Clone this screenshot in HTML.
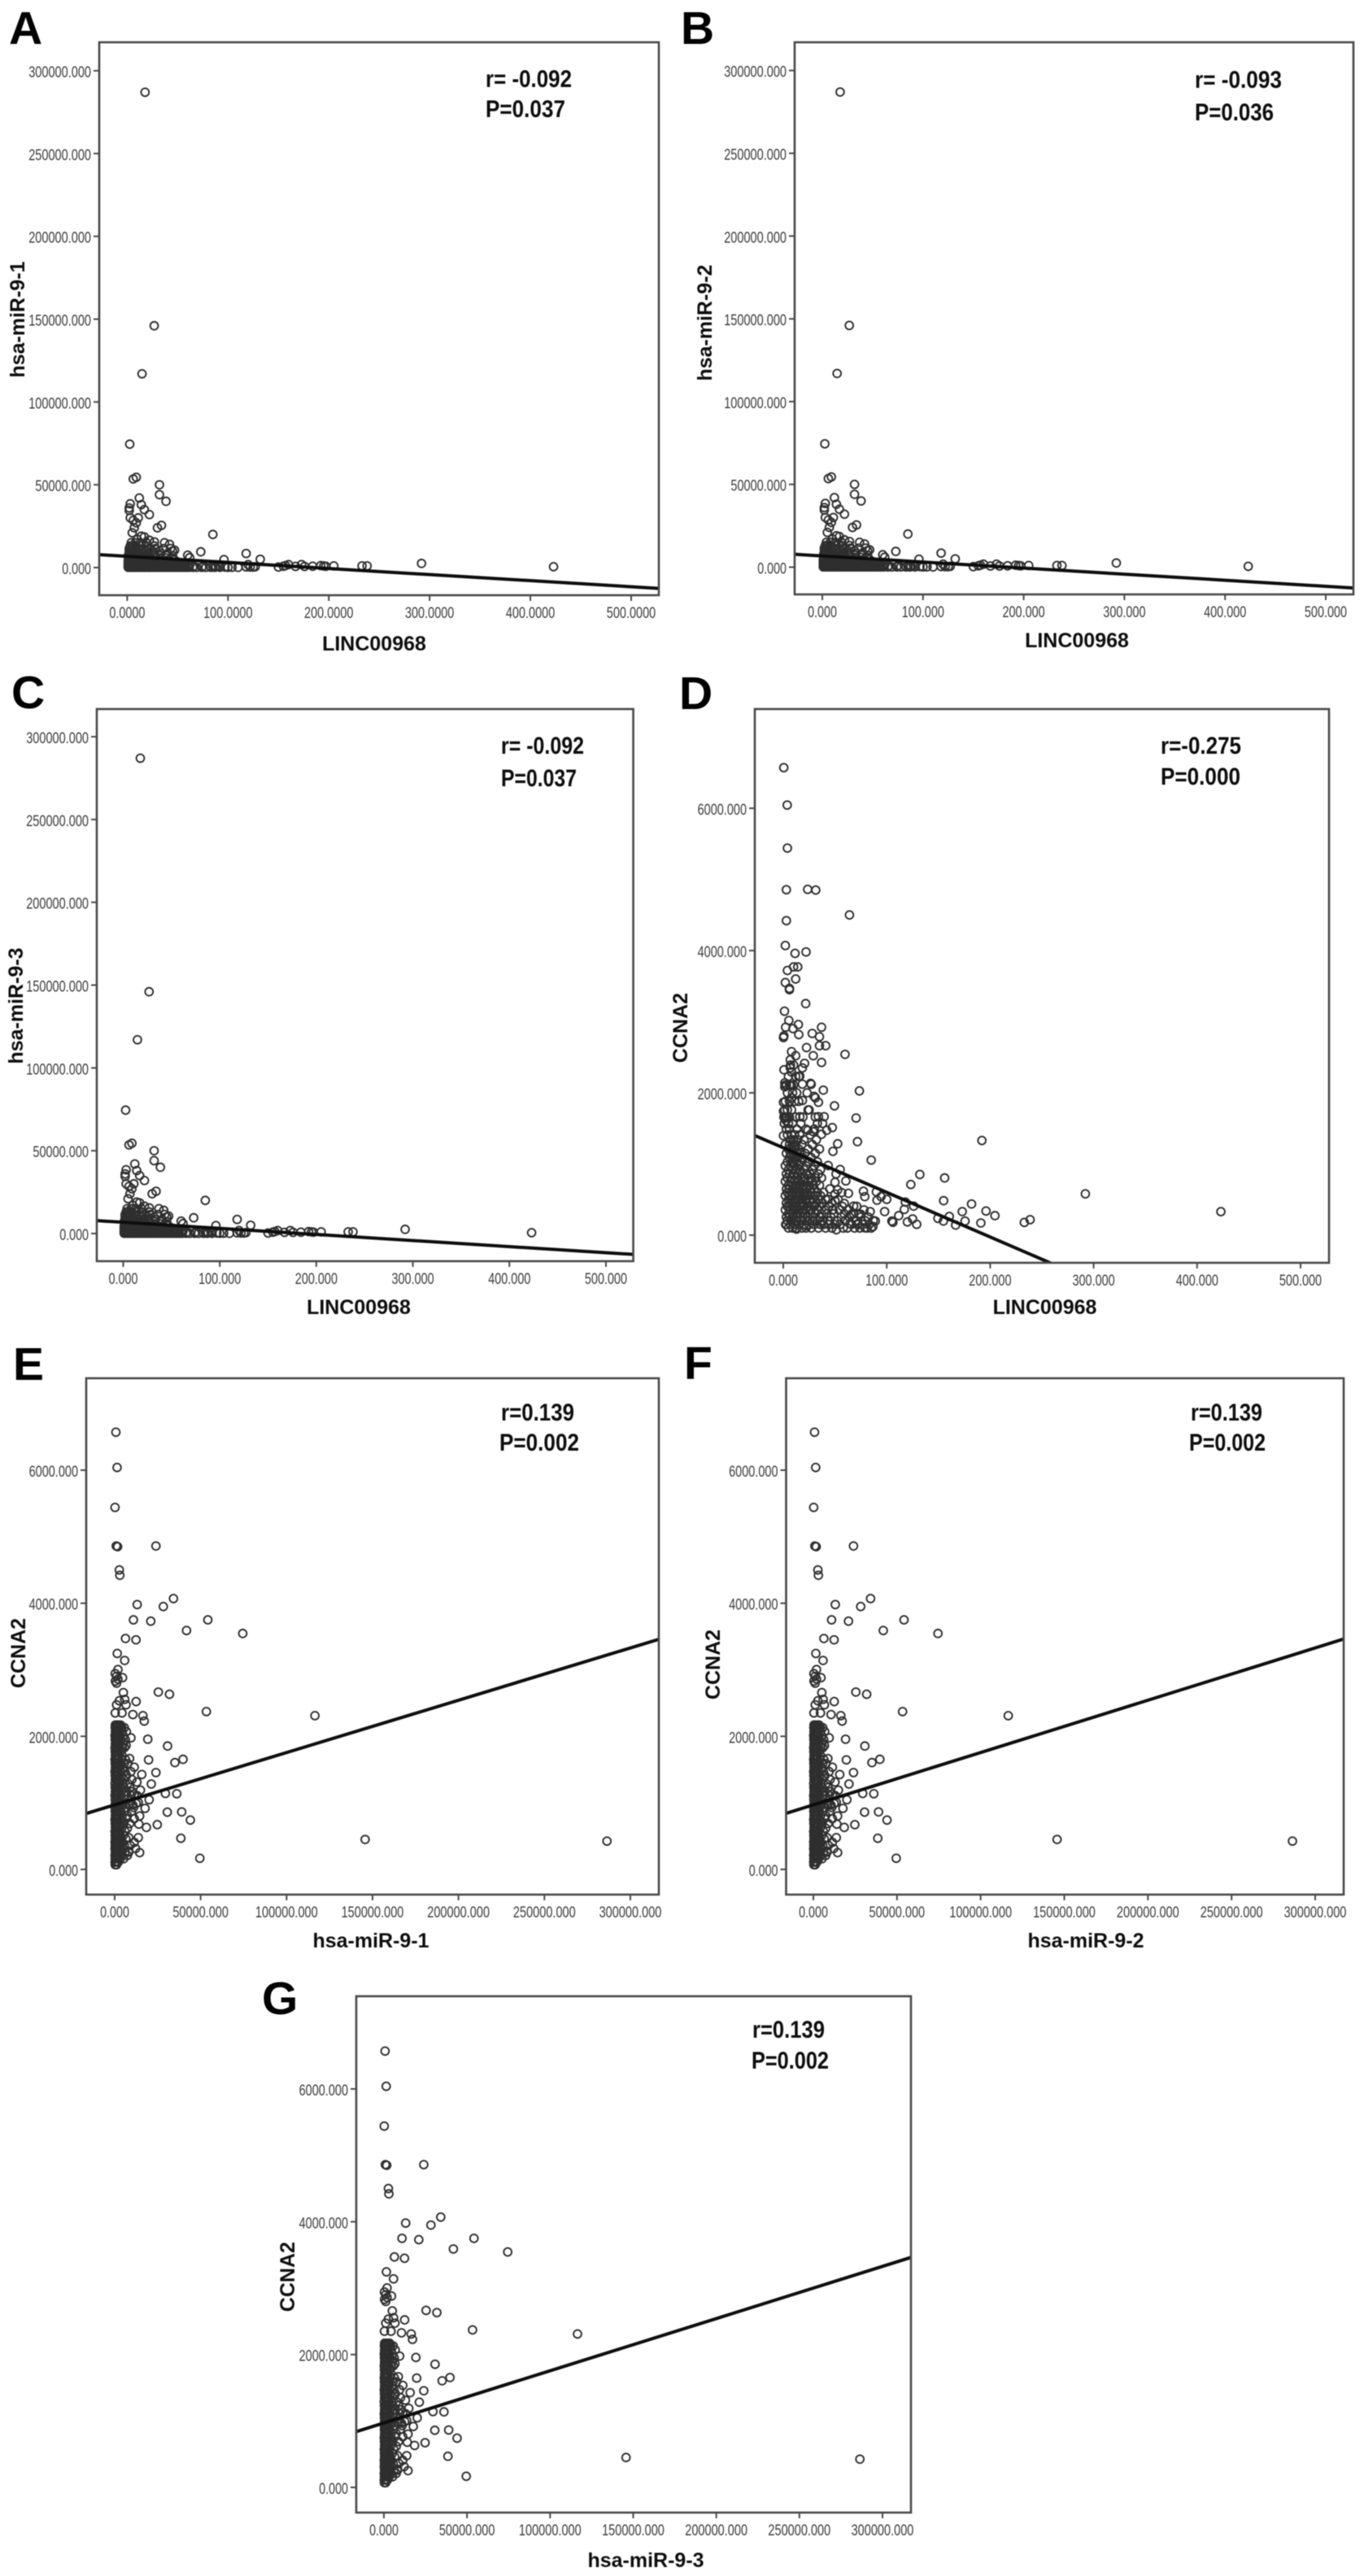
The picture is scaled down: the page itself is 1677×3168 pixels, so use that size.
<!DOCTYPE html>
<html lang="en">
<head>
<meta charset="utf-8">
<title>Correlation scatter plots A-G</title>
<style>
html,body{margin:0;padding:0;background:#fff}
svg{display:block}
text{font-family:"Liberation Sans",Arial,sans-serif}
</style>
</head>
<body>
<svg id="figure" xmlns="http://www.w3.org/2000/svg" width="1677" height="3168" viewBox="0 0 1677 3168">
<defs><filter id="soft" x="-2%" y="-2%" width="104%" height="104%"><feGaussianBlur stdDeviation="0.6"/></filter></defs>
<rect width="1677" height="3168" fill="#fff"/>
</svg>
<script>
// Tick labels
const lincTicks4 = ['0.0000','100.0000','200.0000','300.0000','400.0000','500.0000'];
const lincTicks3 = ['0.000','100.000','200.000','300.000','400.000','500.000'];
const mirTicks = ['0.000','50000.000','100000.000','150000.000','200000.000','250000.000','300000.000'];
const ccnaTicks = ['0.000','2000.000','4000.000','6000.000'];

// Regression lines: [intercept, slope]
const trendMirOnLinc = [6780, -36.7];
const trendCcnaOnLinc = [1228, -6.27];
const trendCcnaOnMir = [970, 0.00786];

// LINC00968 vs hsa-miR-9: isolated points [x, y]
const lincMirPoints = [[17.7,287000],[26.8,146000],[14.7,117000],[2.5,74500],[6,53500],[9,54500],[32,50000],[32,44000],[38.5,40000],[12,42000],[14,38000],[17,35000],[22,32000],[3,38500],[2,36000],[2,34500],[3,30000],[6,28500],[11,30000],[9,27000],[7,24000],[5,21000],[30,24000],[34,25500],[85,20000],[73,9500],[118,8500],[132,5000],[96,4800],[60,7500],[62,6000],[292,2500],[423,500],[238,1000],[233,1000],[205,1000],[197,800],[192,1200],[195,1000],[184,800],[176,700],[173,1800],[167,700],[160,1800],[157,1200],[155,800],[150,300],[127,500],[125,300],[122,300],[118,400],[120,1800],[110,100],[104,200],[97,300],[91,1000],[88,500],[85,300],[42,14000],[37,15000],[45,10000],[47,10500],[14,19000],[17,18500],[22,16500],[27,15500],[10,17000]];
// LINC00968 vs hsa-miR-9: dense band as [y, [x, x, ...]]
const lincMirRows = [
[150,[1,3,5,7,9,11,13,16,18,21,23,26,29,31,34,37,40,43,46,49,52,55,58,61,65,69,74,78,83,87,92,100]],
[800,[1,2,4,6,8,10,12,15,17,20,22,25,28,30,33,36,39,42,45,48,51,54,57,60,66,75]],
[1500,[1,3,5,7,9,12,14,17,19,22,24,27,30,33,35,38,41,44,47,50,53,56,62]],
[2400,[1,3,5,8,10,13,15,18,20,23,26,29,32,35,38,41,44,47,51,55]],
[3400,[1,2,4,6,9,11,14,16,19,22,25,28,31,34,37,40,44,50]],
[4600,[1,3,5,7,10,12,15,18,21,24,27,31,36,41,47]],
[5900,[2,4,6,8,11,13,16,20,23,28,33,38,44]],
[7200,[1,3,5,7,10,14,18,22,27,33,39,45]],
[8500,[2,4,7,11,15,20,26,33,40]],
[10000,[2,4,6,10,14,19,25,32]],
[11500,[2,4,7,11,16,22,28,36,43]],
[13000,[3,5,9,14,20,27]],
[15000,[4,8,13,19]]
];

// LINC00968 vs CCNA2: isolated points [x, y]
const lincCcnaPoints = [[0.5,6570],[3.8,6045],[4,5440],[3,4855],[23.6,4860],[31.4,4850],[64,4500],[3,4420],[2,4070],[11.4,3960],[22,3980],[4,3720],[10,3770],[14,3770],[12,3600],[2,3550],[6,3467],[6,3450],[21.7,3254],[1.2,3147],[5.4,3017],[2.3,2922],[14.6,2960],[9.4,2903],[15,2819],[0.2,2777],[0.6,2800],[28,2835],[37,2922],[35,2789],[35,2663],[41,2663],[22.5,2636],[29,2522],[37,2427],[59.7,2541],[8,2579],[12,2522],[6.8,2465],[20.6,2415],[0.7,2324],[18.5,2350],[6.8,2350],[8,2293],[16,2236],[1.5,2141],[8,2103],[18.5,2122],[26.4,2133],[27,2120],[1.5,2084],[38.7,2038],[73.6,2027],[29.8,1950],[31,1930],[34,1867],[49.5,1817],[0.2,1867],[8,1931],[18.5,1893],[0.2,1741],[1.5,1646],[2.8,1608],[25,1760],[16,1665],[34,1665],[39.5,1665],[70.4,1646],[38,1570],[47.4,1512],[42,1474],[23.8,1474],[29,1455],[37,1417],[0.2,1398],[52.6,1284],[71.7,1314],[48,1177],[192,1330],[85,1055],[132,853],[123.3,712],[156,804],[155,484],[182,438],[196,339],[204.6,274],[173,331],[160.5,263],[175.7,198],[191,171],[166.6,141],[154.8,198],[149.5,236],[233,179],[238.6,217],[292,580],[423,330],[129,152],[125,228],[120,186],[117,362],[126,408],[118,465],[111.6,274],[105,198],[106,180],[98,331],[100,503],[94.5,541],[90.6,491],[90,609],[86.7,122],[78.8,103],[89,198],[84,331],[78.8,541],[77.5,617],[63,587],[60.5,762],[50,743],[55,922],[43.4,979],[56.5,598],[52.6,636],[50,579],[43.4,503],[50,484],[59,446],[68,408],[51.3,76],[64.4,160],[72,160],[75,293],[65.7,293],[12.8,84],[2.3,148],[22.5,133]];
// LINC00968 vs CCNA2: dense cloud as [y, [x, x, ...]]
const lincCcnaRows = [
[100,[5,9,13,18,22,27,34,41,47,58,62,69,74,81,85]],
[150,[3,7,11,15,20,25,30,36,39,44,50,55,66,72,77,83]],
[205,[4,8,12,17,23,28,33,38,43,52,60,70,79,87]],
[255,[3,6,10,14,19,24,29,35,46,56,64,75,82]],
[300,[5,9,13,16,21,26,31,37,42,49,59,68,73]],
[355,[2,7,11,15,18,22,27,33,40,48,54,63,78]],
[405,[4,6,10,13,17,20,25,30,35,44,57,71]],
[450,[3,8,12,16,19,23,28,32,38,47]],
[500,[5,7,11,14,18,22,26,29,34,41,53]],
[555,[2,6,9,13,17,21,24,31,36]],
[600,[4,8,12,15,19,23,27,33,39]],
[650,[3,6,10,14,18,22,26,30,45]],
[700,[5,9,12,16,20,25,29,35]],
[755,[2,7,11,15,19,24,28,32]],
[805,[4,8,13,17,21,27,31,37]],
[860,[3,6,10,14,18,23,26,34,51]],
[920,[5,9,12,16,20,28,36]],
[975,[2,7,11,15,22,30]],
[1030,[4,8,10,13,17,25,33]],
[1090,[6,9,12,14,19,27]],
[1150,[3,7,10,13,16,21,31]],
[1210,[5,8,11,15,24,35]],
[1275,[2,6,9,12,18,28]],
[1340,[7,10,14,20,32]],
[1410,[4,8,11,16,26]],
[1490,[3,6,13,22,30]],
[1570,[1,5,9,17,33]],
[1660,[0.6,2,3.4,6,12,19,31]],
[1760,[1.4,4,8,24]],
[1880,[2,6,11,15]],
[2000,[4,9,13,23]],
[2110,[2,3,6,7,10]],
[2230,[5,12,15]],
[2390,[7,10]]
];

// hsa-miR-9 vs CCNA2: isolated points [x, y]
const mirCcnaPoints = [[700,6570],[1400,6040],[200,5440],[900,4860],[1700,4850],[24000,4860],[2700,4500],[3000,4420],[13100,3980],[28300,3950],[34200,4070],[10900,3750],[21000,3730],[54200,3750],[41800,3590],[74500,3545],[6300,3470],[12400,3450],[1500,3245],[5800,3140],[1900,3003],[1110,2901],[1110,2799],[320,2942],[4580,2881],[400,2830],[1900,2860],[5055,2657],[5844,2555],[2690,2534],[1110,2473],[320,2351],[4266,2351],[6633,2473],[12470,2522],[10580,2327],[16420,2310],[17200,2229],[25400,2665],[31880,2632],[53340,2371],[19260,1956],[30780,1854],[9470,1977],[6630,1862],[19730,1646],[39770,1654],[35040,1605],[23990,1455],[21310,1283],[15780,1426],[11370,1536],[8680,1666],[12950,1312],[14990,1190],[20050,1047],[29510,1141],[36140,1137],[30620,860],[38980,864],[44030,741],[24780,672],[18470,631],[14050,680],[38510,468],[13730,477],[49550,167],[14520,252],[11370,407],[12150,313],[8210,273],[7420,619],[8210,477],[17680,917],[14520,802],[11370,762],[6630,762],[13730,1006],[10580,965],[11370,1128],[116500,2310],[145700,450],[286400,425]];
// hsa-miR-9 vs CCNA2: dense column as [y, [x, x, ...]]
const mirCcnaRows = [
[70,[300,700,1100]],[110,[200,800,1500,2100]],[160,[300,1100,2000,3200,5200]],[210,[200,900,1700,2800,4500,7400]],
[260,[400,1200,2300,3800,6000,8200]],[310,[200,800,1500,2900,4700]],[360,[300,1100,2000,3400,5600,9000]],[410,[200,700,1600,2700,4300]],
[460,[400,1200,2200,3600,6500]],[510,[300,900,1700,3000,5000]],[570,[200,1000,2000,3300,6000]],[630,[400,1300,2500,4200]],
[690,[300,900,1800,3100,5300,8800]],[750,[200,1100,2200,3700]],[810,[400,1300,2600,4400,7400]],[870,[300,900,1900,3200,5600,9800]],
[930,[200,1200,2300,3800,6800,11000]],[990,[400,1000,2000,3100,5000,8600,12500]],[1050,[300,1300,2500,4100,7200]],[1110,[200,900,1900,3300,5900,9500,13000]],
[1170,[400,1200,2300,3900,7000,10400]],[1230,[300,1000,2000,3200,5400,8800]],[1290,[200,1300,2600,4600,7600]],[1350,[400,900,1800,3000,5200,10000]],
[1410,[300,1200,2400,4000,6900]],[1470,[200,1000,2100,3500,6000,9400]],[1530,[400,1300,2700,4800]],[1590,[300,900,1900,3200,5600,7600]],
[1650,[200,1100,2300,3900,6300]],[1710,[400,1300,2500,4300]],[1770,[300,1000,2000,3300]],[1830,[200,1200,2400,4400,5700]],
[1890,[400,900,1800,3100,5000]],[1950,[300,1100,2200,3600,6200]],[2010,[200,1000,2000,3200,5000]],[2070,[400,1300,2500,4300,6800]],
[2130,[300,1000,1900,3000,4200,5600]],[2170,[400,1300,2300,3400]]
];

const svg = document.getElementById('figure');
const NS = 'http://www.w3.org/2000/svg';

function flatten(points, rows) {
  const out = points.slice();
  rows.forEach(function (r) { r[1].forEach(function (x) { out.push([x, r[0]]); }); });
  return out;
}
const lincMirAll = flatten(lincMirPoints, lincMirRows);
const lincCcnaAll = flatten(lincCcnaPoints, lincCcnaRows);
const mirCcnaAll = flatten(mirCcnaPoints, mirCcnaRows);

function make(tag, attrs, parent) {
  const el = document.createElementNS(NS, tag);
  Object.keys(attrs).forEach(function (k) { el.setAttribute(k, attrs[k]); });
  parent.appendChild(el);
  return el;
}
function tickWidth(label) {
  const digits = label.replace('.', '').length;
  return digits * 8.2 + 3;
}

const panels = [
  {id:'a',letter:'A',lx:11,ly:54,frame:[122,52,810,732],xa:[156.4,776,500],ya:[698,87,300000],xt:lincTicks4,yt:mirTicks,data:lincMirAll,trend:trendMirOnLinc,
   xl:'LINC00968',xlx:460,xly:800,yl:'hsa-miR-9-1',ylx:30,yly:393,r:'r= -0.092',p:'P=0.037',rx:597,ry:107,rw:106,py:144,pw:98},
  {id:'b',letter:'B',lx:837,ly:54,frame:[977,52,1664,731],xa:[1011,1630,500],ya:[697.5,86.7,300000],xt:lincTicks3,yt:mirTicks,data:lincMirAll,trend:trendMirOnLinc,
   xl:'LINC00968',xlx:1324,xly:796,yl:'hsa-miR-9-2',ylx:875,yly:397,r:'r= -0.093',p:'P=0.036',rx:1469,ry:108,rw:107,py:148,pw:97},
  {id:'c',letter:'C',lx:14,ly:871,frame:[119,872,778.6,1551],xa:[151.5,745,500],ya:[1517,906,300000],xt:lincTicks3,yt:mirTicks,data:lincMirAll,trend:trendMirOnLinc,
   xl:'LINC00968',xlx:441,xly:1616,yl:'hsa-miR-9-3',ylx:28,yly:1237,r:'r= -0.092',p:'P=0.037',rx:616,ry:927,rw:102,py:967,pw:93},
  {id:'d',letter:'D',lx:835,ly:872,frame:[928,872,1634,1553],xa:[963,1599,500],ya:[1519,994,6000],xt:lincTicks3,yt:ccnaTicks,data:lincCcnaAll,trend:trendCcnaOnLinc,
   xl:'LINC00968',xlx:1284.5,xly:1616,yl:'CCNA2',ylx:845,yly:1264,r:'r=-0.275',p:'P=0.000',rx:1427,ry:927,rw:99,py:965,pw:98},
  {id:'e',letter:'E',lx:16,ly:1697,frame:[106,1695,810,2330],xa:[141,775,300000],ya:[2299,1808,6000],xt:mirTicks,yt:ccnaTicks,data:mirCcnaAll,trend:trendCcnaOnMir,
   xl:'hsa-miR-9-1',xlx:456,xly:2395,yl:'CCNA2',ylx:31,yly:2033,r:'r=0.139',p:'P=0.002',rx:616,ry:1747,rw:90,py:1784,pw:98,px:614},
  {id:'f',letter:'F',lx:841,ly:1696,frame:[966.5,1695,1652,2330],xa:[1000,1617,300000],ya:[2299,1808,6000],xt:mirTicks,yt:ccnaTicks,data:mirCcnaAll,trend:trendCcnaOnMir,
   xl:'hsa-miR-9-2',xlx:1335,xly:2395,yl:'CCNA2',ylx:885,yly:2047,r:'r=0.139',p:'P=0.002',rx:1464,ry:1747,rw:88,py:1784,pw:94,px:1462},
  {id:'g',letter:'G',lx:322,ly:2477,frame:[438,2455,1120,3090],xa:[472,1085,300000],ya:[3059,2569,6000],xt:mirTicks,yt:ccnaTicks,data:mirCcnaAll,trend:trendCcnaOnMir,
   xl:'hsa-miR-9-3',xlx:794,xly:3157,yl:'CCNA2',ylx:362,yly:2800,r:'r=0.139',p:'P=0.002',rx:925,ry:2506,rw:89,py:2544,pw:95,px:924}
];

panels.forEach(function (p) {
  const l = p.frame[0], t = p.frame[1], r = p.frame[2], b = p.frame[3];
  const xScale = function (v) { return p.xa[0] + v * (p.xa[1] - p.xa[0]) / p.xa[2]; };
  const yScale = function (v) { return p.ya[0] + v * (p.ya[1] - p.ya[0]) / p.ya[2]; };
  const xInvert = function (px) { return (px - p.xa[0]) * p.xa[2] / (p.xa[1] - p.xa[0]); };

  const g = make('g', {filter:'url(#soft)'}, svg);
  
  

  const letter = make('text', {x:p.lx, y:p.ly, 'font-size':57, 'font-weight':'bold', fill:'#000'}, g);
  
  
  letter.textContent = p.letter;

  const clip = make('clipPath', {id:'clip-' + p.id}, g);
  make('rect', {x:l, y:t, width:r - l, height:b - t}, clip);

  const pts = make('g', {fill:'none', stroke:'#2e2e2e', 'stroke-width':1.9}, g);
  
  
  p.data.forEach(function (d) {
    const c = make('circle', {cx:xScale(d[0]), cy:yScale(d[1]), r:4.9}, pts);
    
    
  });

  const x0 = xInvert(l), x1 = xInvert(r);
  const fit = make('line', {
    x1:xScale(x0), y1:yScale(p.trend[0] + p.trend[1] * x0),
    x2:xScale(x1), y2:yScale(p.trend[0] + p.trend[1] * x1),
    stroke:'#0a0a0a', 'stroke-width':4, 'clip-path':'url(#clip-' + p.id + ')'
  }, g);
  
  

  const frame = make('rect', {x:l, y:t, width:r - l, height:b - t, fill:'none', stroke:'#484848', 'stroke-width':2.6}, g);
  
  

  p.xt.forEach(function (lab) {
    const px = xScale(parseFloat(lab));
    const tick = make('line', {x1:px, x2:px, y1:b, y2:b + 7, stroke:'#484848', 'stroke-width':2}, g);
    
    
    const txt = make('text', {x:px, y:b + 28, 'font-size':19, fill:'#3c3c3c', 'text-anchor':'middle', textLength:tickWidth(lab), lengthAdjust:'spacingAndGlyphs'}, g);
    
    
    txt.textContent = lab;
  });
  p.yt.forEach(function (lab) {
    const py = yScale(parseFloat(lab));
    const tick = make('line', {x1:l - 7, x2:l, y1:py, y2:py, stroke:'#484848', 'stroke-width':2}, g);
    
    
    const txt = make('text', {x:l - 10, y:py + 8, 'font-size':19, fill:'#3c3c3c', 'text-anchor':'end', textLength:tickWidth(lab), lengthAdjust:'spacingAndGlyphs'}, g);
    
    
    txt.textContent = lab;
  });

  const xt = make('text', {x:p.xlx, y:p.xly, 'font-size':25, 'font-weight':'bold', fill:'#111', 'text-anchor':'middle'}, g);
  
  
  xt.textContent = p.xl;

  const yt = make('text', {x:0, y:0, 'font-size':25, 'font-weight':'bold', fill:'#111', 'text-anchor':'middle', transform:'translate(' + p.ylx + ',' + p.yly + ') rotate(-90)'}, g);
  
  
  yt.textContent = p.yl;

  const rt = make('text', {x:p.rx, y:p.ry, 'font-size':30, 'font-weight':'bold', fill:'#0a0a0a', textLength:p.rw, lengthAdjust:'spacingAndGlyphs'}, g);
  
  
  rt.textContent = p.r;

  const pt = make('text', {x:p.px || p.rx, y:p.py, 'font-size':30, 'font-weight':'bold', fill:'#0a0a0a', textLength:p.pw, lengthAdjust:'spacingAndGlyphs'}, g);
  
  
  pt.textContent = p.p;
});
</script>
</body>
</html>
